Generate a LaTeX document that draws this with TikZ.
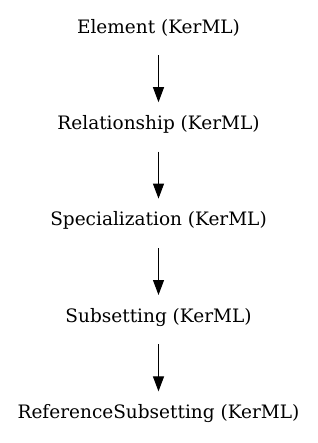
\documentclass[tikz,border=0pt]{standalone}
\usepackage{fontspec}
\setmainfont{DejaVu Serif}
\usepackage{tikz}
\usetikzlibrary{positioning}
\usetikzlibrary{arrows.meta}
\tikzset{kerml/.style={minimum height=44pt, inner sep=0, font=\fontsize{18.5}{22}\selectfont}}
\tikzset{gen/.style={black, line width=1pt, -{Triangle[length=15pt, width=11pt]}, shorten <=5pt}}

\begin{document}
\begin{tikzpicture} [x=1pt, y=1pt, node distance=52pt]
\useasboundingbox (-158.5,28) rectangle (158.5,-415);
\node[kerml] (element) at (0,0) {Element (KerML)};
\node[kerml, below=of element] (relationship) {Relationship (KerML)};
\node[kerml, below=of relationship] (specialization) {Specialization (KerML)};
\node[kerml, below=of specialization] (subsetting) {Subsetting (KerML)};
\node[kerml, below=of subsetting] (refsubsetting) {ReferenceSubsetting (KerML)};
\foreach \a/\b in {element/relationship, relationship/specialization, specialization/subsetting, subsetting/refsubsetting} {
 \draw[gen] (\a) -- (\b);
}
\end{tikzpicture}
\end{document}
